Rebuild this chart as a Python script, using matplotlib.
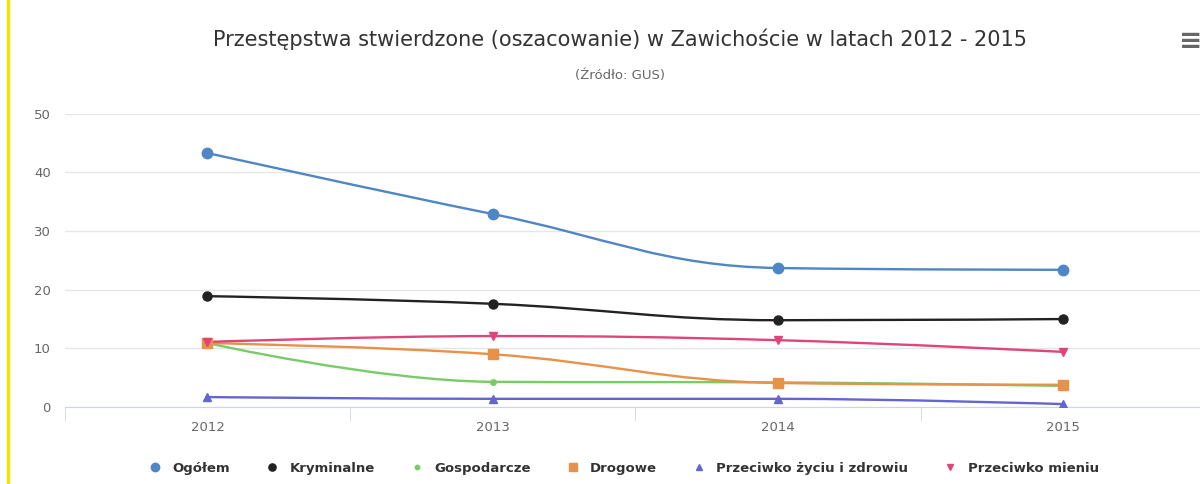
import numpy as np
import matplotlib
matplotlib.use("Agg")
import matplotlib.pyplot as plt
from matplotlib.path import Path
from matplotlib.patches import PathPatch
from matplotlib.lines import Line2D

# data
years = ["2012", "2013", "2014", "2015"]
ogolem = [43.3, 32.9, 23.7, 23.4]
kryminalne = [18.9, 17.6, 14.8, 15.0]
gospodarcze = [10.9, 4.3, 4.2, 3.6]
drogowe = [10.9, 9.0, 4.1, 3.8]
zycie = [1.7, 1.4, 1.4, 0.5]
mienie = [11.1, 12.1, 11.4, 9.4]

names = ["Ogółem", "Kryminalne", "Gospodarcze", "Drogowe",
         "Przeciwko życiu i zdrowiu", "Przeciwko mieniu"]
series = [ogolem, kryminalne, gospodarcze, drogowe, zycie, mienie]
colors = ["#4f86c6", "#222222", "#78cc66", "#e8914a", "#6464d2", "#e0457a"]
markers = ["o", "o", "o", "s", "^", "v"]
msizes = [7.5, 6.5, 4, 6.5, 5.5, 5.5]


def spline_path(xs, ys, smoothing=1.5):
    # highcharts-like spline segments
    denom = smoothing + 1
    n = len(xs)
    verts = [(xs[0], ys[0])]
    codes = [Path.MOVETO]
    rc = [(xs[0], ys[0])] * n
    lc = [(xs[0], ys[0])] * n
    for i in range(n):
        x, y = xs[i], ys[i]
        if 0 < i < n - 1:
            lx = (smoothing * x + xs[i - 1]) / denom
            ly = (smoothing * y + ys[i - 1]) / denom
            rx = (smoothing * x + xs[i + 1]) / denom
            ry = (smoothing * y + ys[i + 1]) / denom
            corr = (ry - ly) * (rx - x) / (rx - lx) + y - ry
            ly += corr
            ry += corr
            if ly > ys[i - 1] and ly > y:
                ly = max(ys[i - 1], y)
                ry = 2 * y - ly
            elif ly < ys[i - 1] and ly < y:
                ly = min(ys[i - 1], y)
                ry = 2 * y - ly
            if ry > ys[i + 1] and ry > y:
                ry = max(ys[i + 1], y)
                ly = 2 * y - ry
            elif ry < ys[i + 1] and ry < y:
                ry = min(ys[i + 1], y)
                ly = 2 * y - ry
            lc[i] = (lx, ly)
            rc[i] = (rx, ry)
        else:
            lc[i] = (x, y)
            rc[i] = (x, y)
    for i in range(1, n):
        verts += [rc[i - 1], lc[i], (xs[i], ys[i])]
        codes += [Path.CURVE4, Path.CURVE4, Path.CURVE4]
    return Path(verts, codes)


fig = plt.figure(figsize=(12, 4.84), dpi=100)
ax = fig.add_axes([0.054, 0.159, 0.951, 0.606])

x = np.arange(len(years))
for vals, name, c, m, ms in zip(series, names, colors, markers, msizes):
    ax.add_patch(PathPatch(spline_path(list(x), vals), fill=False,
                           edgecolor=c, lw=1.7, zorder=3))
    ax.plot(x, vals, ls="none", marker=m, color=c, markersize=ms,
            markeredgecolor=c, zorder=4, label=name)

ax.set_xlim(-0.5, 3.5)
ax.set_ylim(0, 50)
ax.set_yticks([0, 10, 20, 30, 40, 50])
ax.set_xticks(x)
ax.set_xticklabels(years)
ax.set_xticks([-0.5, 0.5, 1.5, 2.5, 3.5], minor=True)
ax.tick_params(axis="x", which="major", length=0, pad=10, labelsize=9.5,
               colors="#666666")
ax.tick_params(axis="x", which="minor", length=10, color="#ccd6eb",
               direction="out")
ax.tick_params(axis="y", length=0, labelsize=9.5, colors="#666666", pad=10)
ax.grid(axis="y", color="#e6e6e6", lw=1)
ax.set_axisbelow(True)
for s in ["top", "right", "left"]:
    ax.spines[s].set_visible(False)
ax.spines["bottom"].set_color("#ccd6eb")

fig.text(0.517, 0.918, "Przestępstwa stwierdzone (oszacowanie) w Zawichoście w latach 2012 - 2015",
         ha="center", va="center", fontsize=15, color="#333333")
fig.text(0.517, 0.845, "(Źródło: GUS)", ha="center", va="center",
         fontsize=9.5, color="#666666")
fig.text(0.992, 0.915, "≡", ha="center", va="center", fontsize=20,
         color="#666666", fontweight="bold")

# yellow edge seen on the left of the screenshot
fig.add_artist(Line2D([0.007, 0.007], [0, 1], color="#f5e400", lw=2.5,
                      transform=fig.transFigure))

leg = fig.legend(loc="center", bbox_to_anchor=(0.517, 0.033), ncol=6,
                 frameon=False, handletextpad=0.3, columnspacing=2.2,
                 markerscale=0.8, prop={"size": 9.5, "weight": "bold"})
for t in leg.get_texts():
    t.set_color("#333333")

fig.savefig("out.png", dpi=100, facecolor="white")
